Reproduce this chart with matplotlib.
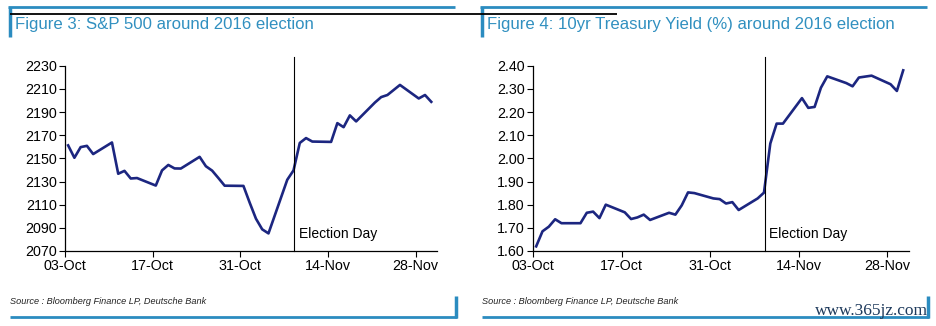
import numpy as np
import pandas as pd
import matplotlib
matplotlib.use('Agg')
import matplotlib.pyplot as plt
import matplotlib.dates as mdates
from matplotlib.lines import Line2D

plt.rcParams['font.family'] = ['Liberation Sans', 'DejaVu Sans']

# 交易日
dates = ['2016-10-03', '2016-10-04', '2016-10-05', '2016-10-06', '2016-10-07',
         '2016-10-10', '2016-10-11', '2016-10-12', '2016-10-13', '2016-10-14',
         '2016-10-17', '2016-10-18', '2016-10-19', '2016-10-20', '2016-10-21',
         '2016-10-24', '2016-10-25', '2016-10-26', '2016-10-27', '2016-10-28',
         '2016-10-31', '2016-11-01', '2016-11-02', '2016-11-03', '2016-11-04',
         '2016-11-07', '2016-11-08', '2016-11-09', '2016-11-10', '2016-11-11',
         '2016-11-14', '2016-11-15', '2016-11-16', '2016-11-17', '2016-11-18',
         '2016-11-21', '2016-11-22', '2016-11-23', '2016-11-25', '2016-11-28',
         '2016-11-29', '2016-11-30']

spx = [2161.2, 2150.5, 2159.7, 2160.8, 2153.7,
       2163.7, 2136.7, 2139.2, 2132.6, 2133.0,
       2126.5, 2139.6, 2144.3, 2141.3, 2141.2,
       2151.3, 2143.2, 2139.4, 2133.0, 2126.4,
       2126.2, 2111.7, 2097.9, 2088.7, 2085.2,
       2131.5, 2139.6, 2163.3, 2167.5, 2164.5,
       2164.2, 2180.4, 2176.9, 2187.1, 2181.9,
       2198.2, 2202.9, 2204.7, 2213.4, 2201.7,
       2204.7, 2198.8]

ust10 = [1.62, 1.685, 1.705, 1.737, 1.72,
         1.72, 1.765, 1.77, 1.742, 1.80,
         1.767, 1.738, 1.745, 1.757, 1.734,
         1.765, 1.757, 1.797, 1.853, 1.85,
         1.827, 1.824, 1.805, 1.811, 1.777,
         1.827, 1.852, 2.064, 2.15, 2.15,
         2.26, 2.218, 2.222, 2.305, 2.354,
         2.325, 2.311, 2.349, 2.357, 2.32,
         2.291, 2.38]

election_day = '2016-11-08'
tick_dates = ['2016-10-03', '2016-10-17', '2016-10-31', '2016-11-14', '2016-11-28']
titles = ['Figure 3: S&P 500 around 2016 election',
          'Figure 4: 10yr Treasury Yield (%) around 2016 election']
source = 'Source : Bloomberg Finance LP, Deutsche Bank'

W, H = 937, 326
fig = plt.figure(figsize=(W / 100, H / 100), dpi=100)

blue = '#2b8cc0'
navy = '#1c2680'


def fx(x):
    return x / W


def fy(y):
    return 1 - y / H


def hline(x0, x1, y, color, lw):
    fig.add_artist(Line2D([fx(x0), fx(x1)], [fy(y), fy(y)], color=color, lw=lw,
                          transform=fig.transFigure, solid_capstyle='butt'))


def vline(x, y0, y1, color, lw):
    fig.add_artist(Line2D([fx(x), fx(x)], [fy(y0), fy(y1)], color=color, lw=lw,
                          transform=fig.transFigure, solid_capstyle='butt'))


x = pd.to_datetime(dates) + pd.Timedelta(hours=12)
ticks = pd.to_datetime(tick_dates)
ed = pd.to_datetime(election_day) + pd.Timedelta(hours=14)

panels = [
    dict(left=65, right=437, y=spx, ylim=(2070, 2230), yt=np.arange(2070, 2231, 20), fmt='%d', ox=0),
    dict(left=533, right=909, y=ust10, ylim=(1.60, 2.40), yt=np.arange(1.6, 2.41, 0.1), fmt='%.2f', ox=472),
]

top, bottom = 65.7, 251
for i, p in enumerate(panels):
    ax = fig.add_axes([fx(p['left']), fy(bottom), (p['right'] - p['left']) / W, (bottom - top) / H])
    ax.plot(x, p['y'], color=navy, lw=1.9, solid_joinstyle='round')
    ax.set_ylim(*p['ylim'])
    ax.set_xlim(pd.Timestamp('2016-10-03'), pd.Timestamp('2016-12-01 10:00'))
    ax.set_yticks(p['yt'])
    ax.yaxis.set_major_formatter(matplotlib.ticker.FormatStrFormatter(p['fmt']))
    ax.set_xticks(ticks)
    ax.xaxis.set_major_formatter(mdates.DateFormatter('%d-%b'))
    ax.tick_params(labelsize=10.3, length=4, width=0.8, direction='out', colors='black', pad=2)
    ax.spines['top'].set_visible(False)
    ax.spines['right'].set_visible(False)
    for s in ['left', 'bottom']:
        ax.spines[s].set_linewidth(0.9)
    ax.patch.set_alpha(0)
    ax.plot([ed, ed], [0, 1.047], color='black', lw=0.8, transform=ax.get_xaxis_transform(), clip_on=False)
    ax.text(ed + pd.Timedelta(hours=18), 0.09, 'Election Day', fontsize=10,
            transform=ax.get_xaxis_transform(), va='center', ha='left')

    ox = p['ox']
    # 标题与装饰线
    hline(8 + ox, 455 + ox, 7, blue, 2)
    vline(10 + ox, 7, 37, blue, 2.5)
    fig.text(fx(15 + ox), fy(25), titles[i], color='#3190c0', fontsize=12.1, va='center', ha='left')
    fig.text(fx(10 + ox), fy(302), source, fontsize=6.6, style='italic', color='#222222',
             va='center', ha='left')
    hline(10 + ox, 457 + ox, 317, blue, 2)
    vline(456 + ox, 296, 318, blue, 2.5)

hline(10, 617, 14, 'black', 1.3)

fig.text(fx(928), fy(311), 'www.365jz.com', family=['Liberation Serif', 'DejaVu Serif'],
         fontsize=12.5, color='#1e3a5c', ha='right', va='center')

fig.savefig('out.png', dpi=100)
